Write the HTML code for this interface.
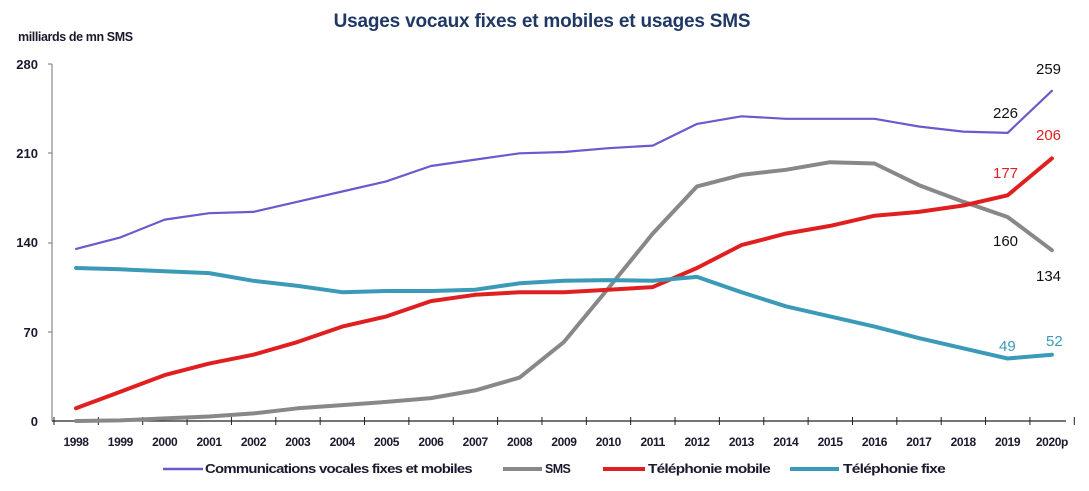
<!DOCTYPE html>
<html><head><meta charset="utf-8"><style>
body{margin:0;background:#fff;}
svg text{font-family:"Liberation Sans",sans-serif;}
</style></head><body>
<svg id="c" width="1089" height="486" xmlns="http://www.w3.org/2000/svg">
<text x="542" y="27" text-anchor="middle" font-size="19" font-weight="bold" fill="#1F3864" letter-spacing="-0.2">Usages vocaux fixes et mobiles et usages SMS</text>
<text x="18" y="41" font-size="12.5" font-weight="bold" fill="#1a1a2e" letter-spacing="-0.4">milliards de mn SMS</text>
<g font-size="13" font-weight="bold" fill="#1a1a2e" text-anchor="end">
<text x="38" y="69">280</text><text x="38" y="158">210</text><text x="38" y="337">70</text><text x="38" y="426">0</text><text x="38" y="247">140</text>
</g>
<g stroke="#888" stroke-width="1.2" fill="none">
<line x1="52" y1="64" x2="52" y2="421"/>
<line x1="48" y1="64" x2="52" y2="64"/><line x1="48" y1="153" x2="52" y2="153"/><line x1="48" y1="243" x2="52" y2="243"/><line x1="48" y1="332" x2="52" y2="332"/>
</g>
<g id="xt"></g>
<g id="lines" fill="none" stroke-linejoin="round" stroke-linecap="round"></g>
<g font-size="15">
<text x="1036" y="74" fill="#111">259</text>
<text x="993" y="118" fill="#111">226</text>
<text x="1036" y="140" fill="#e02020">206</text>
<text x="993" y="178" fill="#e02020">177</text>
<text x="993" y="246" fill="#111">160</text>
<text x="1036" y="281" fill="#111">134</text>
<text x="999" y="351" fill="#3a9ab8">49</text>
<text x="1046" y="346" fill="#3a9ab8">52</text>
</g>
<g font-size="12.5" font-weight="bold" fill="#1a1a2e" letter-spacing="-0.6">
<line x1="163" y1="469" x2="203" y2="469" stroke="#6a5acd" stroke-width="2.5"/>
<text x="205" y="473" textLength="267" lengthAdjust="spacingAndGlyphs">Communications vocales fixes et mobiles</text>
<line x1="503" y1="469" x2="542" y2="469" stroke="#888" stroke-width="4"/>
<text x="545" y="473">SMS</text>
<line x1="603" y1="469" x2="645" y2="469" stroke="#e02020" stroke-width="4"/>
<text x="648" y="473" textLength="122" lengthAdjust="spacingAndGlyphs">Téléphonie mobile</text>
<line x1="790" y1="469" x2="839" y2="469" stroke="#3a9ab8" stroke-width="4"/>
<text x="843" y="473" textLength="102" lengthAdjust="spacingAndGlyphs">Téléphonie fixe</text>
</g>
</svg>
<script>
var ns="http://www.w3.org/2000/svg",svg=document.getElementById('c');
function X(i){return 76+i*44.36;}function Y(v){return 421-v*1.275;}
var xt=document.getElementById('xt');
var s='<line x1="52" y1="421" x2="1066" y2="421" stroke="#222" stroke-width="1.2"/>';
for(var i=0;i<=23;i++){var x=54+i*44.36;s+='<line x1="'+x+'" y1="417" x2="'+x+'" y2="425" stroke="#222"/>';}
for(var i=0;i<23;i++){s+='<text x="'+X(i)+'" y="446" text-anchor="middle" font-size="12" font-weight="bold" fill="#1a1a2e" letter-spacing="-0.4">'+(1998+i)+(i==22?'p':'')+'</text>';}
xt.innerHTML=s;
var D={
"#6a5acd":[2.2,[135,144,158,163,164,172,180,188,200,205,210,211,214,216,233,239,237,237,237,231,227,226,259]],
"#888":[4,[0,0.5,2,3.5,6,10,12.5,15,18,24,34,62,104,147,184,193,197,203,202,185,172,160,134]],
"#e02020":[4,[10,23,36,45,52,62,74,82,94,99,101,101,103,105,120,138,147,153,161,164,169,177,206]],
"#3a9ab8":[4,[120,119,117.5,116,110,106,101,102,102,103,108,110,110.5,110,113,101,90,82,74,65,57,49,52]]};
var l='';for(var c in D){var p=D[c][1].map(function(v,i){return X(i).toFixed(1)+','+Y(v).toFixed(1)}).join(' ');
l+='<polyline points="'+p+'" stroke="'+c+'" stroke-width="'+D[c][0]+'"/>';}
document.getElementById('lines').innerHTML=l;
</script>
</body></html>
